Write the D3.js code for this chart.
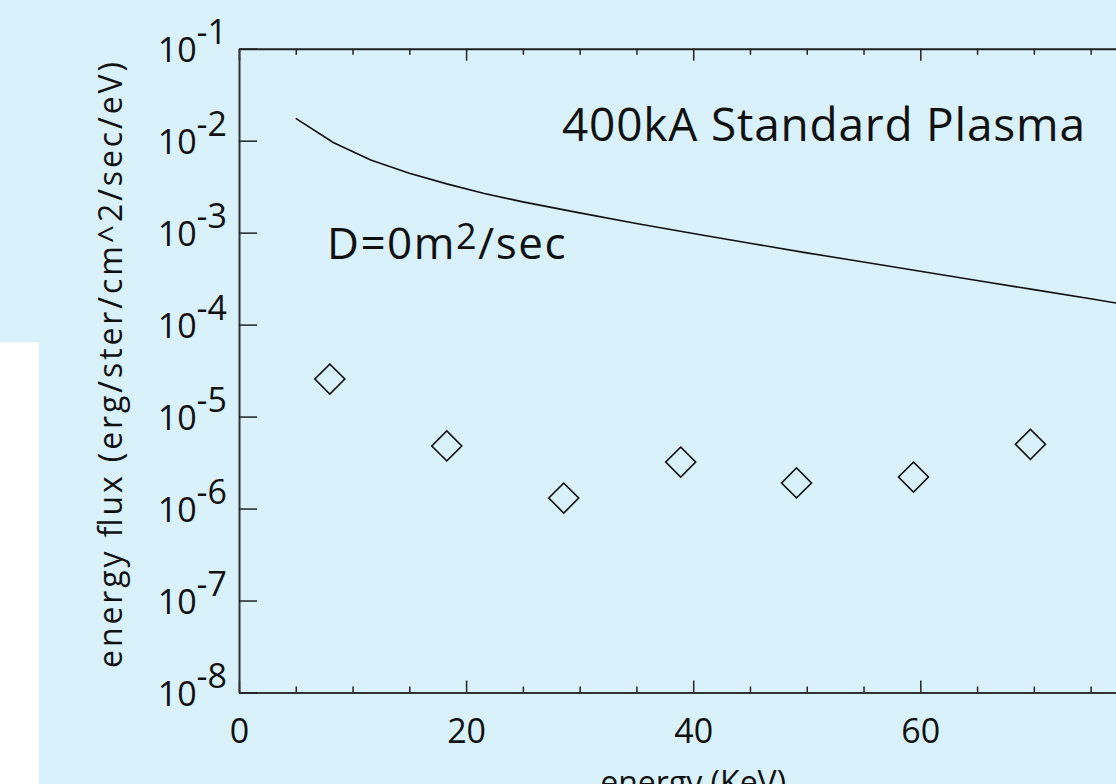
<!DOCTYPE html>
<html lang="en">
    <head>
        <meta charset="UTF-8">
        <script src="https://d3js.org/d3.v7.min.js"></script>
        <title>Energy flux</title>
        <style>
            body { margin: 0; background: #d8f1fb; }
        </style>
    </head>
    <body>
        <div id="container"></div>
    </body>
    <script>
        // model curve (D = 0)
        const curveEnergy = [5, 8.3, 11.6, 15, 18.3, 21.6, 25, 30, 35, 40, 45, 50, 55, 60, 65, 70, 75, 80];
        const curveFlux = [1.75e-2, 9.55e-3, 6.17e-3, 4.42e-3, 3.39e-3, 2.66e-3, 2.16e-3, 1.64e-3, 1.26e-3,
                           9.77e-4, 7.67e-4, 6.03e-4, 4.79e-4, 3.80e-4, 3.02e-4, 2.40e-4, 1.91e-4, 1.51e-4];

        // measured points
        const pointEnergy = [8, 18.3, 28.6, 38.9, 49.1, 59.4, 69.7];
        const pointFlux = [2.56e-5, 4.8e-6, 1.3e-6, 3.2e-6, 1.9e-6, 2.2e-6, 5.0e-6];

        const xMajor = [0, 20, 40, 60, 80];
        const yDecades = [-8, -7, -6, -5, -4, -3, -2, -1];

        const width = 1116;
        const height = 784;
        const font = '"Open Sans", sans-serif';

        const x = d3.scaleLinear().domain([0, 80]).range([239, 1147.4]);
        const y = d3.scaleLog().domain([1e-8, 1e-1]).range([692.5, 48.7]);

        const svg = d3.select('#container')
            .append('svg')
            .attr('width', width)
            .attr('height', height)
            .style('display', 'block');

        svg.append('rect')
            .attr('width', width).attr('height', height)
            .attr('fill', '#d8f1fb');

        svg.append('rect')
            .attr('x', 0).attr('y', 342)
            .attr('width', 39).attr('height', height - 342)
            .attr('fill', '#ffffff');

        const minor = d3.range(0, 81, 5).filter(v => v % 20 != 0);

        // bottom axis
        svg.append('g')
            .attr('transform', `translate(0,${y(1e-8)})`)
            .call(d3.axisBottom(x).tickValues(minor).tickSize(-6).tickFormat(''))
            .call(g => g.select('.domain').remove())
            .selectAll('line').attr('stroke', '#222').attr('stroke-width', 1.5);

        svg.append('g')
            .attr('transform', `translate(0,${y(1e-8)})`)
            .call(d3.axisBottom(x).tickValues(xMajor).tickSize(-12).tickSizeOuter(0).tickPadding(50)
                .tickFormat(d3.format('d')))
            .call(g => g.select('.domain').attr('stroke', '#333').attr('stroke-width', 2))
            .call(g => g.selectAll('line').attr('stroke', '#222').attr('stroke-width', 1.5))
            .call(g => g.selectAll('text').attr('font-family', font).attr('font-size', 34)
                .attr('fill', '#111').attr('dy', 0));

        // top axis
        svg.append('g')
            .attr('transform', `translate(0,${y(1e-1)})`)
            .call(d3.axisTop(x).tickValues(minor).tickSize(-6).tickFormat(''))
            .call(g => g.select('.domain').remove())
            .selectAll('line').attr('stroke', '#222').attr('stroke-width', 1.5);

        svg.append('g')
            .attr('transform', `translate(0,${y(1e-1)})`)
            .call(d3.axisTop(x).tickValues(xMajor).tickSize(-12).tickSizeOuter(0).tickFormat(''))
            .call(g => g.select('.domain').attr('stroke', '#222').attr('stroke-width', 2))
            .selectAll('line').attr('stroke', '#222').attr('stroke-width', 1.5);

        // left axis
        svg.append('g')
            .attr('transform', `translate(${x(0)},0)`)
            .call(d3.axisLeft(y).tickValues(yDecades.map(p => Math.pow(10, p)))
                .tickSize(-18).tickSizeOuter(0).tickFormat(''))
            .call(g => g.select('.domain').attr('stroke', '#333').attr('stroke-width', 2))
            .call(g => g.selectAll('line').attr('stroke', '#222').attr('stroke-width', 1.5));

        const yLabels = svg.append('g')
            .selectAll('text')
            .data(yDecades)
            .enter()
            .append('text')
            .attr('x', 227)
            .attr('y', d => y(Math.pow(10, d)) + 13)
            .attr('text-anchor', 'end')
            .attr('font-family', font)
            .attr('font-size', 34)
            .attr('fill', '#111');
        yLabels.append('tspan').text('10');
        yLabels.append('tspan').attr('dy', -18).text(d => '-' + Math.abs(d));

        // model line
        const line = d3.line()
            .x((d, i) => x(curveEnergy[i]))
            .y(d => y(d));

        svg.append('path')
            .datum(curveFlux)
            .attr('d', line)
            .attr('fill', 'none')
            .attr('stroke', '#111')
            .attr('stroke-width', 1.6);

        // diamonds
        const diamond = d3.symbol().type(d3.symbolSquare).size(450);
        svg.append('g')
            .selectAll('path')
            .data(pointFlux)
            .enter()
            .append('path')
            .attr('d', diamond)
            .attr('transform', (d, i) => `translate(${x(pointEnergy[i])},${y(d)}) rotate(45)`)
            .attr('fill', 'none')
            .attr('stroke', '#111')
            .attr('stroke-width', 1.6);

        // annotations
        svg.append('text')
            .attr('x', 562).attr('y', 141)
            .attr('font-family', font).attr('font-size', 46)
            .attr('textLength', 523).attr('lengthAdjust', 'spacing')
            .attr('fill', '#111')
            .text('400kA Standard Plasma');

        const dText = svg.append('text')
            .attr('x', 327).attr('y', 259)
            .attr('font-family', font).attr('font-size', 44)
            .attr('letter-spacing', 1.5)
            .attr('fill', '#111');
        dText.append('tspan').text('D=0m');
        dText.append('tspan').attr('dy', -10).attr('font-size', 36).text('2');
        dText.append('tspan').attr('dy', 10).text('/sec');

        // axis titles
        svg.append('text')
            .attr('transform', `translate(122,365) rotate(-90)`)
            .attr('text-anchor', 'middle')
            .attr('font-family', font).attr('font-size', 32)
            .attr('textLength', 606).attr('lengthAdjust', 'spacing')
            .attr('fill', '#111')
            .text('energy flux (erg/ster/cm^2/sec/eV)');

        svg.append('text')
            .attr('x', x(40)).attr('y', 794)
            .attr('text-anchor', 'middle')
            .attr('font-family', font).attr('font-size', 32)
            .attr('fill', '#111')
            .text('energy (KeV)');
    </script>
</html>
